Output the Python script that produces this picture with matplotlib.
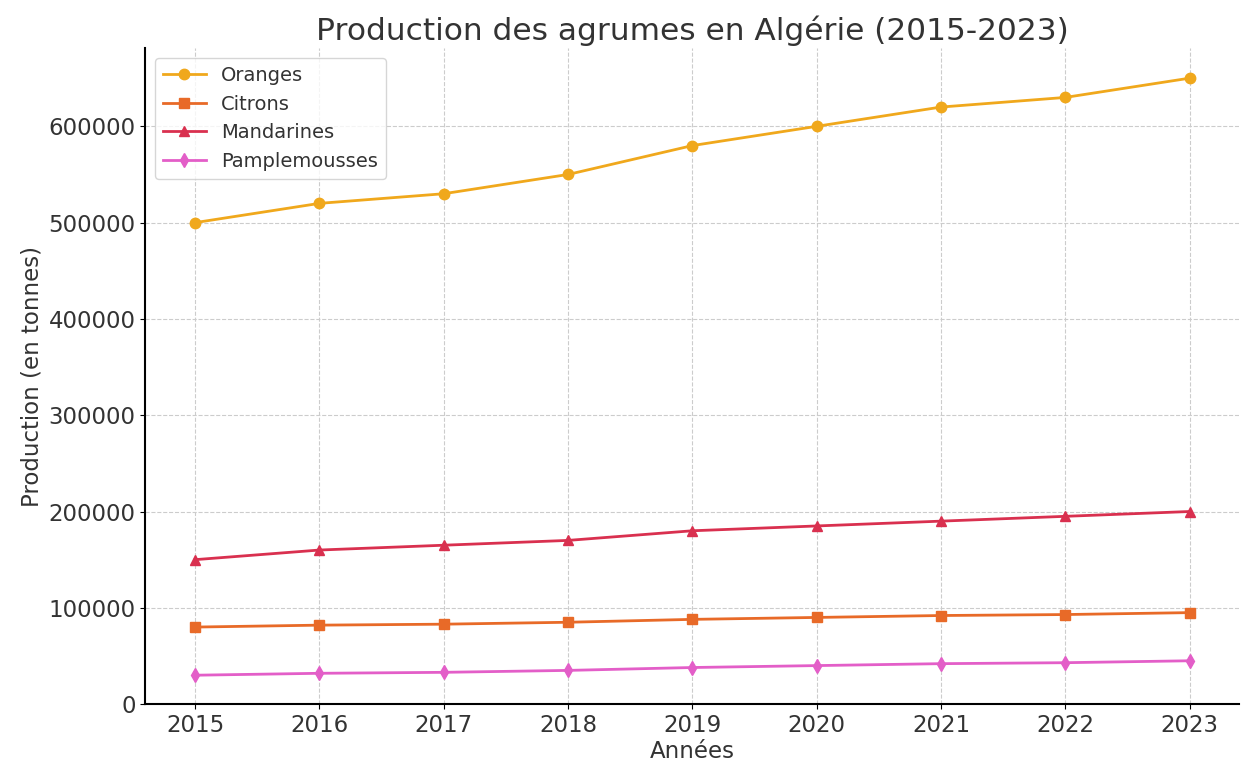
import matplotlib
matplotlib.use('Agg')
import matplotlib.pyplot as plt

years = [2015, 2016, 2017, 2018, 2019, 2020, 2021, 2022, 2023]
oranges = [500000, 520000, 530000, 550000, 580000, 600000, 620000, 630000, 650000]
citrons = [80000, 82000, 83000, 85000, 88000, 90000, 92000, 93000, 95000]
mandarines = [150000, 160000, 165000, 170000, 180000, 185000, 190000, 195000, 200000]
pamplemousses = [30000, 32000, 33000, 35000, 38000, 40000, 42000, 43000, 45000]

series = [
    ('Oranges', oranges, '#f0a81c', 'o'),
    ('Citrons', citrons, '#e86a28', 's'),
    ('Mandarines', mandarines, '#d9304f', '^'),
    ('Pamplemousses', pamplemousses, '#e35ec8', 'd'),
]

txt = '#333333'
fig = plt.figure(figsize=(12.43, 7.67), dpi=100)
ax = fig.add_axes([0.117, 0.082, 0.88, 0.855])

for name, vals, col, mk in series:
    ax.plot(years, vals, color=col, marker=mk, linewidth=2, markersize=7.5, label=name)

ax.set_ylim(bottom=0)
ax.set_xticks(years)
ax.tick_params(labelsize=16.5, labelcolor=txt)
ax.grid(True, linestyle='--', color='#cccccc', linewidth=0.8)
ax.spines['top'].set_visible(False)
ax.spines['right'].set_visible(False)
ax.spines['left'].set_linewidth(1.5)
ax.spines['bottom'].set_linewidth(1.5)
ax.set_title('Production des agrumes en Algérie (2015-2023)', fontsize=22.5, color=txt)
ax.set_xlabel('Années', fontsize=16.5, color=txt, labelpad=2)
ax.set_ylabel('Production (en tonnes)', fontsize=16.5, color=txt)
ax.legend(loc='upper left', fontsize=14, labelcolor=txt, handlelength=2.2)

fig.savefig('out.png', dpi=100)
